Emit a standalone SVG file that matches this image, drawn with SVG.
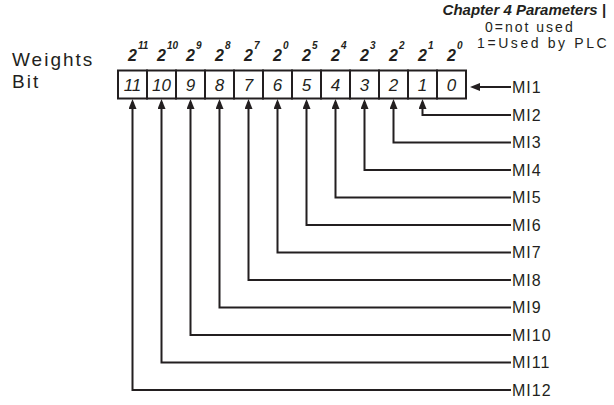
<svg xmlns="http://www.w3.org/2000/svg" width="614" height="405" viewBox="0 0 614 405">
<style>
  .bg{fill:#ffffff}
  .cell{fill:#ffffff;stroke:#231f20;stroke-width:2}
  .digit{font-family:"Liberation Sans",Arial,sans-serif;font-style:italic;font-size:17px;fill:#231f20;text-anchor:middle}
  .base{font-family:"Liberation Sans",Arial,sans-serif;font-style:italic;font-weight:bold;font-size:16px;fill:#231f20}
  .exp{font-family:"Liberation Sans",Arial,sans-serif;font-style:italic;font-weight:bold;font-size:10px;fill:#231f20}
  .mi{font-family:"Liberation Sans",Arial,sans-serif;font-size:16px;fill:#231f20;letter-spacing:1px}
  .side{font-family:"Liberation Sans",Arial,sans-serif;font-size:19px;fill:#231f20;letter-spacing:2px}
  .legend{font-family:"Liberation Sans",Arial,sans-serif;font-size:14px;fill:#231f20;letter-spacing:2px}
  .title{font-family:"Liberation Sans",Arial,sans-serif;font-style:italic;font-weight:bold;font-size:15px;fill:#231f20}
  .conn{fill:none;stroke:#231f20;stroke-width:2}
</style>
<defs>
  <marker id="ah" markerWidth="10" markerHeight="8" refX="7" refY="4" orient="auto" markerUnits="userSpaceOnUse">
    <path d="M0,0 L10,4 L0,8 z" fill="#231f20"/>
  </marker>
</defs>
<rect class="bg" x="0" y="0" width="614" height="405"/>

<g id="title"><text class="title" x="606" y="15" text-anchor="end">Chapter 4 Parameters  |</text></g>
<g id="legend">
  <text class="legend" x="485" y="32">0=not used</text>
  <text class="legend" x="477" y="48" style="letter-spacing:2.6px">1=Used by PLC</text>
</g>
<g id="weights-label"><text class="side" x="12" y="66">Weights</text></g>
<g id="bit-label"><text class="side" x="12" y="88">Bit</text></g>

<g id="bit11"><rect class="cell" x="118" y="70.5" width="29" height="28"/><text class="digit" x="132.5" y="91">11</text><text class="base" x="128" y="61">2</text><text class="exp" x="138" y="49">11</text></g>
<g id="bit10"><rect class="cell" x="147" y="70.5" width="29" height="28"/><text class="digit" x="161.5" y="91">10</text><text class="base" x="157" y="61">2</text><text class="exp" x="167" y="49">10</text></g>
<g id="bit9"><rect class="cell" x="176" y="70.5" width="29" height="28"/><text class="digit" x="190.5" y="91">9</text><text class="base" x="186" y="61">2</text><text class="exp" x="196" y="49">9</text></g>
<g id="bit8"><rect class="cell" x="205" y="70.5" width="29" height="28"/><text class="digit" x="219.5" y="91">8</text><text class="base" x="215" y="61">2</text><text class="exp" x="225" y="49">8</text></g>
<g id="bit7"><rect class="cell" x="234" y="70.5" width="29" height="28"/><text class="digit" x="248.5" y="91">7</text><text class="base" x="244" y="61">2</text><text class="exp" x="254" y="49">7</text></g>
<g id="bit6"><rect class="cell" x="263" y="70.5" width="29" height="28"/><text class="digit" x="277.5" y="91">6</text><text class="base" x="273" y="61">2</text><text class="exp" x="283" y="49">0</text></g>
<g id="bit5"><rect class="cell" x="292" y="70.5" width="29" height="28"/><text class="digit" x="306.5" y="91">5</text><text class="base" x="302" y="61">2</text><text class="exp" x="312" y="49">5</text></g>
<g id="bit4"><rect class="cell" x="321" y="70.5" width="29" height="28"/><text class="digit" x="335.5" y="91">4</text><text class="base" x="331" y="61">2</text><text class="exp" x="341" y="49">4</text></g>
<g id="bit3"><rect class="cell" x="350" y="70.5" width="29" height="28"/><text class="digit" x="364.5" y="91">3</text><text class="base" x="360" y="61">2</text><text class="exp" x="370" y="49">3</text></g>
<g id="bit2"><rect class="cell" x="379" y="70.5" width="29" height="28"/><text class="digit" x="393.5" y="91">2</text><text class="base" x="389" y="61">2</text><text class="exp" x="399" y="49">2</text></g>
<g id="bit1"><rect class="cell" x="408" y="70.5" width="29" height="28"/><text class="digit" x="422.5" y="91">1</text><text class="base" x="418" y="61">2</text><text class="exp" x="428" y="49">1</text></g>
<g id="bit0"><rect class="cell" x="437" y="70.5" width="29" height="28"/><text class="digit" x="451.5" y="91">0</text><text class="base" x="447" y="61">2</text><text class="exp" x="457" y="49">0</text></g>

<g id="connectors">
  <path class="conn" marker-end="url(#ah)" d="M511 87 H473"/>
  <path class="conn" marker-end="url(#ah)" d="M511 115 H422.5 V102"/>
  <path class="conn" marker-end="url(#ah)" d="M511 142.5 H393.5 V102"/>
  <path class="conn" marker-end="url(#ah)" d="M511 170 H364.5 V102"/>
  <path class="conn" marker-end="url(#ah)" d="M511 197.5 H335.5 V102"/>
  <path class="conn" marker-end="url(#ah)" d="M511 225 H306.5 V102"/>
  <path class="conn" marker-end="url(#ah)" d="M511 252.5 H277.5 V102"/>
  <path class="conn" marker-end="url(#ah)" d="M511 280 H248.5 V102"/>
  <path class="conn" marker-end="url(#ah)" d="M511 307.5 H219.5 V102"/>
  <path class="conn" marker-end="url(#ah)" d="M511 335 H190.5 V102"/>
  <path class="conn" marker-end="url(#ah)" d="M511 362.5 H161.5 V102"/>
  <path class="conn" marker-end="url(#ah)" d="M511 390 H132.5 V102"/>
</g>

<g id="mi1"><text class="mi" x="512" y="92.5">MI1</text></g>
<g id="mi2"><text class="mi" x="512" y="120.5">MI2</text></g>
<g id="mi3"><text class="mi" x="512" y="148">MI3</text></g>
<g id="mi4"><text class="mi" x="512" y="175.5">MI4</text></g>
<g id="mi5"><text class="mi" x="512" y="203">MI5</text></g>
<g id="mi6"><text class="mi" x="512" y="230.5">MI6</text></g>
<g id="mi7"><text class="mi" x="512" y="258">MI7</text></g>
<g id="mi8"><text class="mi" x="512" y="285.5">MI8</text></g>
<g id="mi9"><text class="mi" x="512" y="313">MI9</text></g>
<g id="mi10"><text class="mi" x="512" y="340.5">MI10</text></g>
<g id="mi11"><text class="mi" x="512" y="368">MI11</text></g>
<g id="mi12"><text class="mi" x="512" y="395.5">MI12</text></g>
</svg>
